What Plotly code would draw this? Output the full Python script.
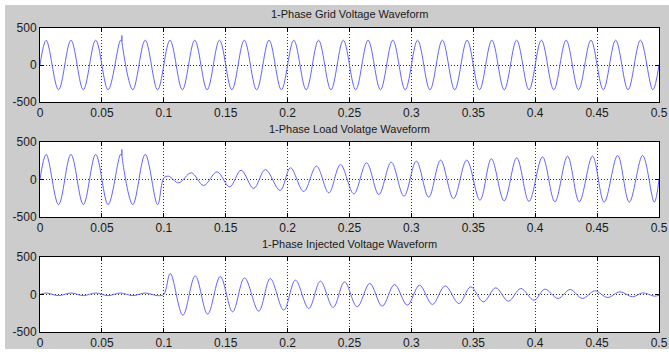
import plotly.graph_objects as go
from plotly.subplots import make_subplots

# ---------------- data ----------------
x_ticks = [0, 0.05, 0.1, 0.15, 0.2, 0.25, 0.3, 0.35, 0.4, 0.45, 0.5]
x_labels = ["0", "0.05", "0.1", "0.15", "0.2", "0.25", "0.3", "0.35", "0.4", "0.45", "0.5"]
y_ticks = [-500, 0, 500]
y_labels = ["-500", "0", "500"]
titles = ["1-Phase Grid Voltage Waveform",
          "1-Phase Load Volatge Waveform",
          "1-Phase Injected Voltage Waveform"]

# Grid voltage: extrema (and spike) samples
grid_t = [0.0, 0.005, 0.015, 0.025, 0.035, 0.045, 0.055, 0.065, 0.0660, 0.0661, 0.0662,
          0.075, 0.085, 0.095, 0.105, 0.115, 0.125, 0.135, 0.145, 0.155, 0.165, 0.175,
          0.185, 0.195, 0.205, 0.215, 0.225, 0.235, 0.245, 0.255, 0.265, 0.275, 0.285,
          0.295, 0.305, 0.315, 0.325, 0.335, 0.345, 0.355, 0.365, 0.375, 0.385, 0.395,
          0.405, 0.415, 0.425, 0.435, 0.445, 0.455, 0.465, 0.475, 0.485, 0.495, 0.5]
grid_v = [0, 335, -335, 335, -335, 335, -335, 335, 318, 400, 312,
          -335, 335, -335, 335, -335, 335, -335, 335, -335, 335, -335,
          335, -335, 335, -335, 335, -335, 335, -335, 335, -335, 335,
          -335, 335, -335, 335, -335, 335, -335, 335, -335, 335, -335,
          335, -335, 335, -335, 335, -335, 335, -335, 335, -335, 0]

# Load voltage
load_t = [0.0, 0.005, 0.015, 0.025, 0.035, 0.045, 0.055, 0.065, 0.0660, 0.0661, 0.0662,
          0.075, 0.085, 0.095, 0.1, 0.1038, 0.112, 0.1222, 0.1322, 0.143, 0.1532,
          0.1624, 0.1726, 0.182, 0.194, 0.2023, 0.213, 0.2233, 0.2333, 0.2427, 0.2535,
          0.2638, 0.2737, 0.2837, 0.294, 0.304, 0.314, 0.3236, 0.334, 0.3447, 0.3554,
          0.3646, 0.3749, 0.3851, 0.395, 0.4059, 0.4159, 0.4261, 0.4356, 0.4463, 0.4557,
          0.4666, 0.476, 0.4868, 0.4962, 0.5]
load_v = [0, 335, -335, 335, -335, 335, -335, 335, 318, 400, 312,
          -335, 335, -335, 20, 44, -44, 89, -80, 102, -98,
          124, -120, 133, -147, 156, -160, 178, -178, 200, -191,
          222, -200, 231, -222, 244, -236, 258, -255, 258, -276,
          276, -284, 289, -293, 302, -298, 311, -298, 311, -302,
          320, -302, 320, -302, 0]

# Injected voltage
inj_t = [0.0, 0.005, 0.015, 0.025, 0.035, 0.045, 0.055, 0.065, 0.075, 0.085, 0.095, 0.1,
         0.1052, 0.1154, 0.1254, 0.1354, 0.1456, 0.1556, 0.1652, 0.1767, 0.186, 0.1969,
         0.2063, 0.2171, 0.2265, 0.2368, 0.246, 0.2562, 0.2664, 0.2764, 0.2864, 0.2967,
         0.3066, 0.3169, 0.3273, 0.3384, 0.3479, 0.3582, 0.3681, 0.3784, 0.3883, 0.3991,
         0.4078, 0.4185, 0.4282, 0.4382, 0.4482, 0.4585, 0.4684, 0.4787, 0.4868, 0.4962, 0.5]
inj_v = [0, 20, -15, 20, -15, 20, -15, 20, -15, 20, -15, 0,
         280, -276, 248, -262, 240, -231, 222, -222, 213, -209,
         191, -187, 178, -173, 168, -165, 147, -156, 133, -142,
         124, -133, 115, -120, 102, -98, 89, -89, 80, -76,
         71, -53, 67, -53, 49, -40, 36, -31, 22, -22, -9]

series = [(grid_t, grid_v), (load_t, load_v), (inj_t, inj_v)]

# ---------------- figure ----------------
W, H = 669, 352
ML, MR, MT, MB = 40, 10, 28, 20
PW, PH = W - ML - MR, H - MT - MB

def py(px):  # pixel y -> paper y
    return (H - MB - px) / PH

def px_(x):  # pixel x -> paper x
    return (x - ML) / PW

fig = make_subplots(rows=3, cols=1)
line_col = "rgb(100,100,255)"
for i, (t, v) in enumerate(series, start=1):
    fig.add_trace(go.Scatter(x=t, y=v, mode="lines",
                             line=dict(color=line_col, width=1, shape="spline", smoothing=1.0),
                             showlegend=False, hoverinfo="skip"), row=i, col=1)

domains = [(py(102), py(28)), (py(217), py(142)), (py(332), py(257))]
title_y = [14, 129, 244]

axis_common = dict(showline=True, linecolor="black", linewidth=1, mirror="ticks",
                   ticks="inside", ticklen=4, tickcolor="black",
                   showgrid=True, gridcolor="rgb(50,50,50)", griddash="1px,2px", gridwidth=1,
                   zeroline=False, automargin=False,
                   tickfont=dict(family="Arial, Liberation Sans", size=12, color="#1a1a1a"))

for i in range(3):
    sx = "xaxis" if i == 0 else f"xaxis{i+1}"
    sy = "yaxis" if i == 0 else f"yaxis{i+1}"
    fig.layout[sx].update(range=[0, 0.5], tickvals=x_ticks, ticktext=x_labels,
                          domain=[0, 1], **axis_common)
    fig.layout[sy].update(range=[-500, 500], tickvals=y_ticks, ticktext=y_labels,
                          domain=list(domains[i]), **axis_common)

annotations = []
for i in range(3):
    annotations.append(dict(text=titles[i], x=0.5, y=py(title_y[i]), xref="paper", yref="paper",
                            xanchor="center", yanchor="middle", showarrow=False,
                            font=dict(family="Arial, Liberation Sans", size=11, color="#1a1a1a")))

white = "white"
shapes = [
    dict(type="rect", xref="paper", yref="paper", x0=px_(-5), x1=px_(W + 5),
         y0=py(5), y1=py(-5), fillcolor=white, line=dict(width=0), layer="above"),
    dict(type="rect", xref="paper", yref="paper", x0=px_(-5), x1=px_(5),
         y0=py(H + 5), y1=py(-5), fillcolor=white, line=dict(width=0), layer="above"),
    dict(type="rect", xref="paper", yref="paper", x0=px_(-5), x1=px_(W + 5),
         y0=py(H + 5), y1=py(349), fillcolor=white, line=dict(width=0), layer="above"),
]

fig.update_layout(width=W, height=H, margin=dict(l=ML, r=MR, t=MT, b=MB),
                  paper_bgcolor="#cccccc", plot_bgcolor="white",
                  annotations=annotations, shapes=shapes, showlegend=False)

fig.write_html("out.html", config={"displayModeBar": False},
               post_script="document.body.style.margin='0';document.body.style.overflow='hidden';")
